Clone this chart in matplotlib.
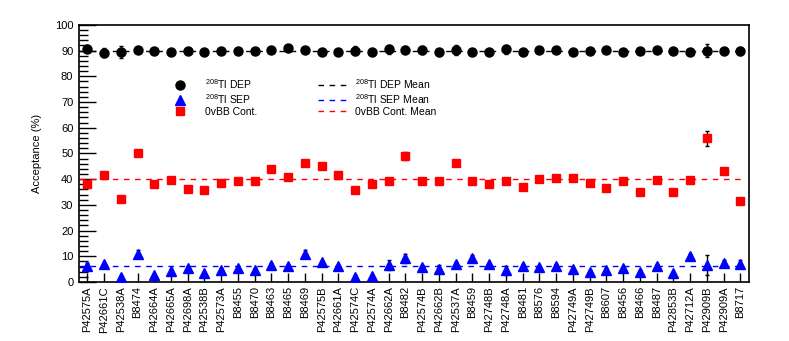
#!/usr/bin/env python3

from matplotlib import pyplot as plt
from matplotlib import ticker
from matplotlib.lines import Line2D
import numpy as np

plt.rcParams['font.family'] = ['Liberation Sans', 'DejaVu Sans']
plt.rcParams['mathtext.default'] = 'regular'

detectors = ['P42575A', 'P42661C', 'P42538A', 'B8474', 'P42664A', 'P42665A',
             'P42698A', 'P42538B', 'P42573A', 'B8455', 'B8470', 'B8463',
             'B8465', 'B8469', 'P42575B', 'P42661A', 'P42574C', 'P42574A',
             'P42662A', 'B8482', 'P42574B', 'P42662B', 'P42537A', 'B8459',
             'P42748B', 'P42748A', 'B8481', 'B8576', 'B8594', 'P42749A',
             'P42749B', 'B8607', 'B8456', 'B8466', 'B8487', 'P42853B',
             'P42712A', 'P42909B', 'P42909A', 'B8717']

# 208Tl DEP acceptance (%)
dep = [90.8, 89.2, 89.4, 90.2, 90.0, 89.4, 90.0, 89.3, 90.0, 89.8,
       89.7, 90.3, 91.0, 90.4, 89.6, 89.3, 90.0, 89.3, 90.5, 90.4,
       90.3, 89.3, 90.3, 89.3, 89.6, 90.5, 89.3, 90.2, 90.3, 89.6,
       89.8, 90.4, 89.6, 89.8, 90.1, 89.7, 89.3, 90.0, 89.9, 89.9]
dep_err = [1.2, 1.8, 2.2, 0.6, 1.0, 0.6, 0.6, 0.5, 1.0, 0.6,
           0.6, 0.6, 0.5, 0.6, 0.6, 0.5, 1.8, 0.6, 1.8, 1.5,
           1.6, 1.5, 2.0, 0.6, 0.6, 1.8, 0.6, 0.5, 0.5, 0.5,
           0.6, 0.5, 0.5, 0.5, 0.5, 0.5, 0.5, 2.5, 0.8, 1.5]

# 208Tl SEP acceptance (%)
sep = [6.4, 6.9, 2.1, 11.0, 2.7, 4.3, 5.6, 3.4, 4.7, 5.3,
       4.7, 6.6, 6.1, 10.8, 7.7, 6.2, 2.1, 2.3, 6.6, 9.2,
       6.0, 5.1, 7.0, 9.2, 6.9, 4.5, 6.4, 5.7, 6.3, 4.9,
       4.0, 4.7, 5.3, 3.8, 6.3, 3.4, 10.1, 6.6, 7.2, 7.0]
sep_err = [0.8, 0.6, 0.5, 1.5, 0.5, 0.6, 0.6, 0.5, 0.6, 0.6,
           0.6, 0.6, 0.6, 1.5, 0.6, 0.6, 0.5, 0.5, 2.0, 1.8,
           0.6, 1.5, 0.6, 1.2, 0.6, 1.8, 0.6, 0.6, 0.6, 0.6,
           0.6, 0.6, 0.6, 1.0, 0.6, 0.6, 0.6, 4.0, 1.5, 1.5]

# 0vBB continuum acceptance (%)
cont = [38.3, 41.8, 32.3, 50.3, 38.1, 39.6, 36.1, 35.8, 38.6, 39.4,
        39.4, 43.8, 40.8, 46.1, 45.0, 41.6, 35.8, 38.0, 39.2, 49.0,
        39.3, 39.1, 46.4, 39.3, 38.0, 39.3, 36.8, 40.0, 40.4, 40.4,
        38.4, 36.6, 39.1, 35.1, 39.7, 34.9, 39.7, 55.9, 43.3, 31.6]
cont_err = [0.5] * 19 + [1.5] + [0.5] * 17 + [3.0] + [0.5] * 2

dep_mean = 89.9
sep_mean = 6.1
cont_mean = 40.0

x = np.arange(len(detectors))

fig = plt.figure(figsize=(7.89, 3.41), dpi=100)
ax = fig.add_axes([0.100, 0.173, 0.849, 0.754])

# mean lines
xmax = len(detectors) - 0.75
ax.hlines(dep_mean, -0.5, xmax, colors='black', linestyles=(0, (4, 4)), lw=1)
ax.hlines(sep_mean, -0.5, xmax, colors='blue', linestyles=(0, (4, 4)), lw=1)
ax.hlines(cont_mean, -0.5, xmax, colors='red', linestyles=(0, (4, 4)), lw=1)

# points
ax.errorbar(x, dep, yerr=dep_err, fmt='o', color='black', ms=6.5,
            ecolor='black', elinewidth=1, capsize=1.5, zorder=3)
ax.errorbar(x, sep, yerr=sep_err, fmt='^', color='blue', ms=6.5,
            ecolor='black', elinewidth=1, capsize=1.5, zorder=3)
ax.errorbar(x, cont, yerr=cont_err, fmt='s', color='red', ms=6,
            ecolor='black', elinewidth=1, capsize=1.5, zorder=3)

ax.set_xlim(-0.5, len(detectors) - 0.5)
ax.set_ylim(0, 100)
ax.set_xticks(x)
ax.set_xticklabels(detectors, rotation=90, fontsize=8)
ax.yaxis.set_major_locator(ticker.MultipleLocator(10))
ax.yaxis.set_minor_locator(ticker.MultipleLocator(2))
ax.tick_params(axis='y', which='major', direction='in', length=12.5, width=1,
               labelsize=8, pad=4)
ax.tick_params(axis='y', which='minor', direction='in', length=6.3, width=1)
ax.tick_params(axis='x', which='major', direction='in', length=6.5, width=1,
               pad=3)
for sp in ax.spines.values():
    sp.set_linewidth(1.2)
ax.set_ylabel('Acceptance (%)', fontsize=8, labelpad=9)

# legends
marker_handles = [
    Line2D([], [], marker='o', ls='none', color='black', ms=6.5),
    Line2D([], [], marker='^', ls='none', color='blue', ms=6.5),
    Line2D([], [], marker='s', ls='none', color='red', ms=6),
]
marker_labels = [r'$^{208}$Tl DEP', r'$^{208}$Tl SEP', '0vBB Cont.']
fig.legend(marker_handles, marker_labels, loc='upper left',
           bbox_to_anchor=(0.215, 0.79), frameon=False, fontsize=7.5,
           handlelength=1.0, handletextpad=1.9, labelspacing=0.12,
           borderpad=0)
line_handles = [
    Line2D([], [], color='black', ls=(0, (4, 4)), lw=1),
    Line2D([], [], color='blue', ls=(0, (4, 4)), lw=1),
    Line2D([], [], color='red', ls=(0, (4, 4)), lw=1),
]
line_labels = [r'$^{208}$Tl DEP Mean', r'$^{208}$Tl SEP Mean',
               '0vBB Cont. Mean']
fig.legend(line_handles, line_labels, loc='upper left',
           bbox_to_anchor=(0.397, 0.79), frameon=False, fontsize=7.5,
           handlelength=3.0, handletextpad=0.5, labelspacing=0.12,
           borderpad=0)

plt.savefig('out.png', dpi=100)
plt.close()
